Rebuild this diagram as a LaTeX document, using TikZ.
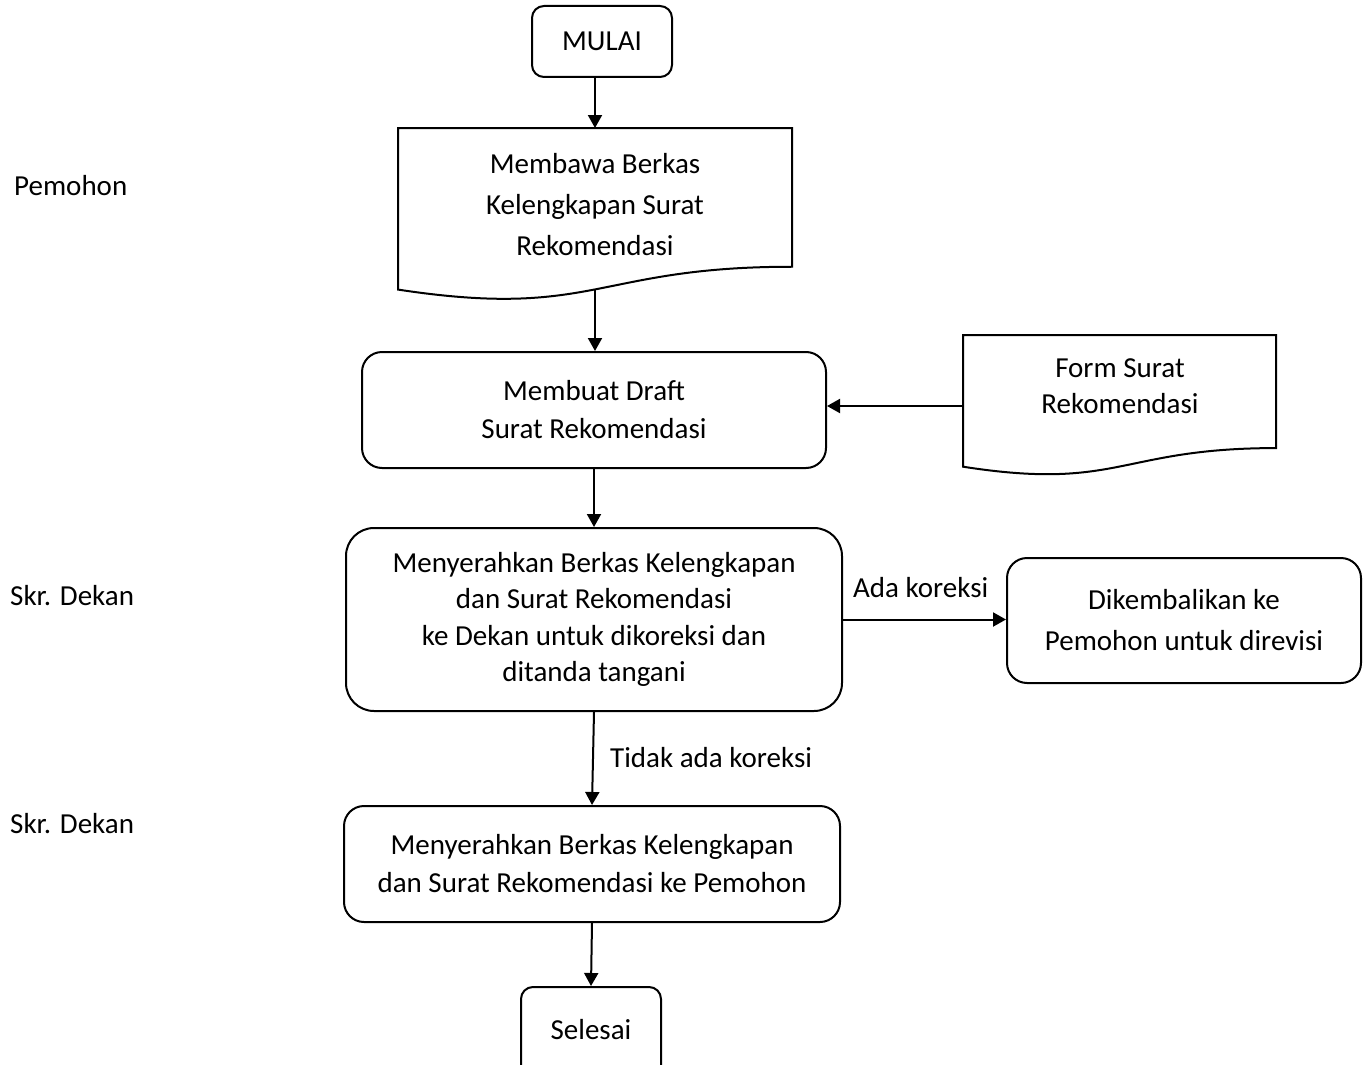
\documentclass[tikz,border=0pt]{standalone}
\usepackage{fontspec}
\setmainfont{Carlito}
\usetikzlibrary{arrows.meta}
\newcommand\docshape[4]{% left, top, right, height
  \draw[outline] (#1,#2) -- (#3,#2) -- (#3,{#2+0.802*#4})
    .. controls ({(#1+#3)/2},{#2+0.802*#4}) and ({(#1+#3)/2},{#2+1.1075*#4}) .. (#1,{#2+0.934*#4}) -- cycle;}
\begin{document}
\begin{tikzpicture}[x=1pt,y=-1pt,
  font=\fontsize{29}{38}\selectfont,
  outline/.style={draw=black,line width=2pt},
  rbox/.style={outline,rounded corners=#1,align=center,inner sep=0pt},
  rbox/.default=20pt,
  txt/.style={align=center,inner sep=0pt},
  lbl/.style={anchor=base west,inner sep=0pt},
  arr/.style={line width=2pt,-{Triangle[length=13pt,width=14pt]}}]
\useasboundingbox (0,0) rectangle (1366,1065);
\clip (0,0) rectangle (1366,1065);
\fill[white] (0,0) rectangle (1366,1065);

% lane labels
\node[lbl] (pemohon) at (14,195) {Pemohon};
\node[lbl] (skr1) at (10,605) {Skr. Dekan};
\node[lbl] (skr2) at (10,833) {Skr. Dekan};

% start
\node[rbox=12pt,minimum width=140,minimum height=71] (mulai) at (602,41.5) {MULAI};

% document: Membawa Berkas
\docshape{398}{128}{792}{173}
\node[txt,font=\fontsize{29}{41}\selectfont] (bawa) at (595,205) {Membawa Berkas\\Kelengkapan Surat\\Rekomendasi};
\coordinate (bawaTop) at (595,128);
\coordinate (bawaBot) at (595,289.4);

% draft
\node[rbox,minimum width=464,minimum height=116] (draft) at (594,410) {Membuat Draft\\Surat Rekomendasi};

% document: form
\docshape{963}{335}{1276}{141}
\node[txt,font=\fontsize{29}{36}\selectfont] (form) at (1120,386) {Form Surat\\Rekomendasi};
\coordinate (formIn) at (963,406);

% check
\node[rbox=28pt,minimum width=496,minimum height=183,font=\fontsize{29}{36.5}\selectfont] (koreksi) at (594,619.5)
  {Menyerahkan Berkas Kelengkapan\\dan Surat Rekomendasi\\ke Dekan untuk dikoreksi dan\\ditanda tangani};

% returned
\node[rbox,minimum width=354,minimum height=125,font=\fontsize{29}{41}\selectfont] (kembali) at (1184,620.5)
  {Dikembalikan ke\\Pemohon untuk direvisi};

% hand over
\node[rbox,minimum width=496,minimum height=116] (serah) at (592,864)
  {Menyerahkan Berkas Kelengkapan\\dan Surat Rekomendasi ke Pemohon};

% end (cut off at bottom of page)
\node[rbox=12pt,minimum width=140,minimum height=103] (selesai) at (591,1038.5) {\raisebox{18pt}{Selesai}};

% connectors
\draw[arr] (mulai.south -| bawaTop) -- (bawaTop);
\draw[arr] (bawaBot) -- (bawaBot |- draft.north);
\draw[arr] (formIn) -- (formIn -| draft.east);
\draw[arr] (draft.south) -- (koreksi.north);
\draw[arr] (koreksi.east) -- (koreksi.east -| kembali.west);
\draw[arr] (koreksi.south) -- (serah.north);
\draw[arr] (serah.south) -- (selesai.north);

% connector labels
\node[lbl] (ada) at (853,597) {Ada koreksi};
\node[lbl] (tidak) at (610,767) {Tidak ada koreksi};
\end{tikzpicture}
\end{document}
